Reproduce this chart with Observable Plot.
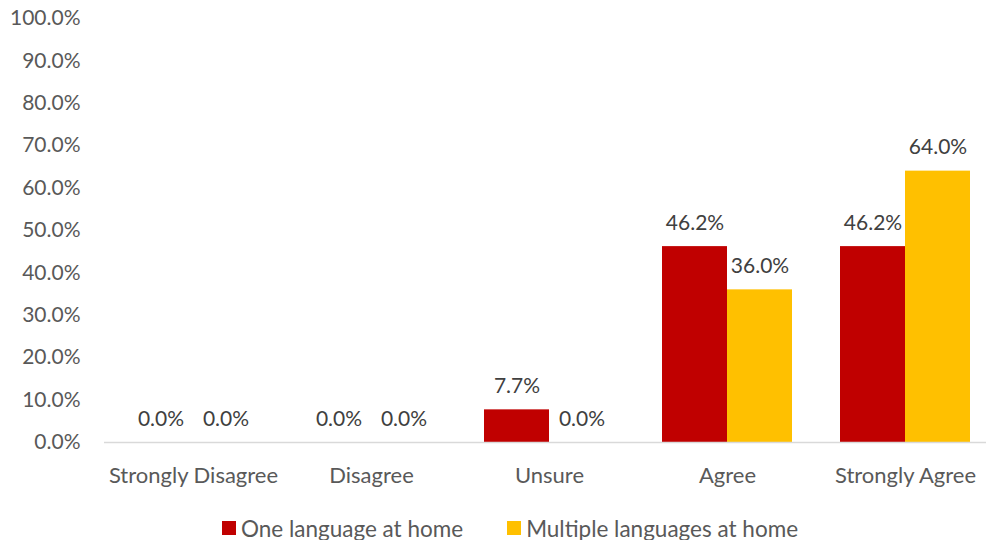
<!DOCTYPE html>
<html>
<head>
<meta charset="utf-8">
<script src="https://cdn.jsdelivr.net/npm/d3@7"></script>
<script src="https://cdn.jsdelivr.net/npm/@observablehq/plot@0.6"></script>
<style>
  html, body { margin: 0; padding: 0; background: #fff; }
  body { width: 986px; height: 540px; overflow: hidden; font-family: Lato, "Open Sans", sans-serif; }
  #chart { height: 492px; }
  #legend { display: flex; justify-content: center; align-items: center; gap: 44px; height: 40px; margin-left: 34px; margin-top: 16px;
            font-size: 22.5px; color: #595959; }
  .item { display: flex; align-items: center; gap: 5px; }
  .sw { width: 14px; height: 14px; display: inline-block; }
</style>
</head>
<body>
<div id="chart"></div>
<div id="legend"></div>
<script>
const categories = ["Strongly Disagree", "Disagree", "Unsure", "Agree", "Strongly Agree"];
const seriesNames = ["One language at home", "Multiple languages at home"];
const oneLanguage = [0.0, 0.0, 0.077, 0.462, 0.462];
const multipleLanguages = [0.0, 0.0, 0.0, 0.36, 0.64];
const seriesColors = ["#C00000", "#FFC000"];
const yTicks = [0, 0.1, 0.2, 0.3, 0.4, 0.5, 0.6, 0.7, 0.8, 0.9, 1.0];

const rows = categories.map((c, i) => ({cat: c, one: oneLanguage[i], multi: multipleLanguages[i]}));

const textColor = "#595959";
const chart = Plot.plot({
  width: 986,
  height: 492,
  marginLeft: 104,
  marginRight: -8,
  marginTop: 18,
  marginBottom: 50,
  style: {fontFamily: "Lato, 'Open Sans', sans-serif", fontSize: "21px", color: textColor, background: "#fff", display: "block"},
  x: {domain: categories, padding: 0, label: null, tickSize: 0, tickPadding: 25},
  y: {domain: [0, 1], ticks: yTicks, tickFormat: d3.format(".1%"), label: null, tickSize: 0, tickPadding: 24},
  marks: [
    Plot.barY(rows, {x: "cat", y: "one", fill: seriesColors[0], insetLeft: 24, insetRight: 89}),
    Plot.barY(rows, {x: "cat", y: "multi", fill: seriesColors[1], insetLeft: 89, insetRight: 24}),
    Plot.ruleY([0], {stroke: "#d9d9d9", strokeWidth: 1.5}),
    Plot.axisX({tickSize: 0, tickPadding: 25, fontSize: 22, label: null}),
    Plot.text(rows, {x: "cat", y: "one", text: d => d3.format(".1%")(d.one), dx: -32.5, dy: -17, lineAnchor: "bottom", fill: "#404040"}),
    Plot.text(rows, {x: "cat", y: "multi", text: d => d3.format(".1%")(d.multi), dx: 32.5, dy: -17, lineAnchor: "bottom", fill: "#404040"})
  ]
});
document.getElementById("chart").appendChild(chart);

const legend = document.getElementById("legend");
seriesNames.forEach((n, i) => {
  const item = document.createElement("span");
  item.className = "item";
  const sw = document.createElement("span");
  sw.className = "sw";
  sw.style.background = seriesColors[i];
  item.appendChild(sw);
  item.appendChild(document.createTextNode(n));
  legend.appendChild(item);
});
</script>
</body>
</html>
